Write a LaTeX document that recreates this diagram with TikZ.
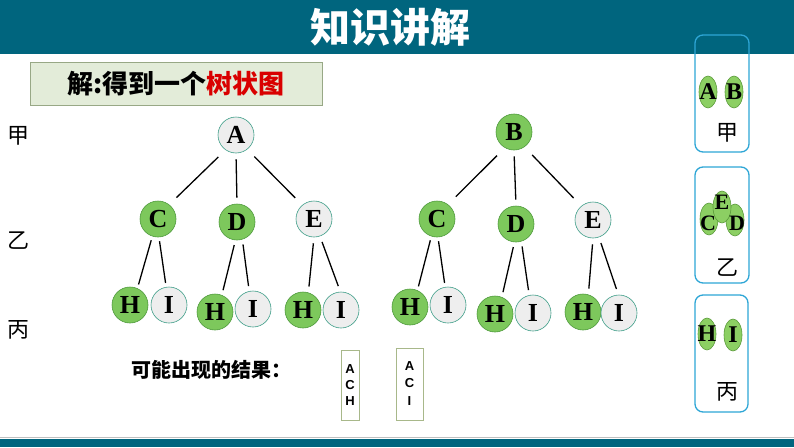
\documentclass[tikz,border=0pt]{standalone}
\usepackage{fontspec}
\newfontfamily\cjk{Noto Sans CJK SC}
\newfontfamily\tnr{Liberation Serif}
\newfontfamily\arial{Liberation Sans}
\usetikzlibrary{shapes.geometric}
\definecolor{teal1}{HTML}{00657E}
\definecolor{gfill}{HTML}{7DC85C}
\definecolor{gborder}{HTML}{4E9A3C}
\definecolor{wfill}{HTML}{EEEEEE}
\definecolor{wborder}{HTML}{3E9E88}
\definecolor{pfill}{HTML}{8CCF63}
\definecolor{pborder}{HTML}{5A9A3A}
\definecolor{panel}{HTML}{2EA6D6}
\definecolor{boxfill}{HTML}{E3ECD9}
\definecolor{boxborder}{HTML}{98A886}
\definecolor{resborder}{HTML}{A8B88A}
\tikzset{
  tn/.style={circle,minimum size=36pt,inner sep=0pt,line width=0.6pt,
    font=\tnr\bfseries\fontsize{26}{26}\selectfont},
  gn/.style={tn,fill=gfill,draw=gborder},
  wn/.style={tn,fill=wfill,draw=wborder},
  edge/.style={line width=1.3pt,black,shorten <=#1,shorten >=#1},
  edge/.default=5pt,
  pell/.style={ellipse,minimum width=18pt,minimum height=32pt,inner sep=0pt,
    fill=pfill,draw=pborder,line width=0.6pt},
  plet/.style={inner sep=0pt,font=\tnr\bfseries\fontsize{24}{24}\selectfont},
  plets/.style={plet,font=\tnr\bfseries\fontsize{22}{22}\selectfont},
  pbox/.style={draw=panel,line width=1.3pt,rounded corners=8pt},
  hz/.style={inner sep=0pt,font=\cjk\fontsize{22}{22}\selectfont},
  res/.style={draw=resborder,line width=0.8pt,fill=white,inner sep=0pt,
    font=\arial\bfseries\fontsize{13}{16}\selectfont,align=center},
}
\begin{document}
\begin{tikzpicture}[x=1pt,y=-1pt]
\useasboundingbox (0,0) rectangle (794,447);
\fill[white] (0,0) rectangle (794,447);
% header
\fill[teal1] (0,0) rectangle (794,54);
\node[inner sep=0pt,text=white,font=\cjk\bfseries\fontsize{40}{40}\selectfont] (title) at (390,27) {知识讲解};
% bottom bar
\draw[line width=1pt,color=gray!50] (0,437) -- (794,437);
\fill[teal1] (0,439) rectangle (794,447);
% heading box
\node[draw=boxborder,fill=boxfill,line width=1pt,minimum width=292pt,minimum height=43pt,inner sep=0pt,
  font=\cjk\bfseries\fontsize{26}{26}\selectfont] (head) at (176,84) {解:得到一个\textcolor{red!85!black}{树状图}};
% left labels
\node[hz] (l1) at (18,136) {甲};
\node[hz] (l2) at (18,241) {乙};
\node[hz] (l3) at (18,330) {丙};
% tree 1
\node[wn] (A) at (236,135) {A};
\node[gn] (C1) at (158,219) {C};
\node[gn] (D1) at (237,222) {D};
\node[wn] (E1) at (314,219) {E};
\node[gn] (H11) at (130,305) {H};
\node[wn] (I11) at (169,305) {I};
\node[gn] (H12) at (215,312) {H};
\node[wn] (I12) at (253,309) {I};
\node[gn] (H13) at (303,310) {H};
\node[wn] (I13) at (341,310) {I};
\draw[edge=10pt] (A.235) -- (C1.52);
\draw[edge=6pt] (A.270) -- (D1.90);
\draw[edge=10pt] (A.308) -- (E1.130);
\draw[edge=4pt] (C1.252) -- (H11.66);
\draw[edge=4pt] (C1.273) -- (I11.99);
\draw[edge=5pt] (D1.265) -- (H12.68);
\draw[edge=5pt] (D1.287) -- (I12.102);
\draw[edge=6pt] (E1.270) -- (H13.73);
\draw[edge=6pt] (E1.289) -- (I13.92);
% tree 2
\node[gn] (B) at (514,132) {B};
\node[gn] (C2) at (437,219) {C};
\node[gn] (D2) at (516,224) {D};
\node[wn] (E2) at (593,220) {E};
\node[gn] (H21) at (410,307) {H};
\node[wn] (I21) at (448,305) {I};
\node[gn] (H22) at (495,314) {H};
\node[wn] (I22) at (533,313) {I};
\node[gn] (H23) at (583,312) {H};
\node[wn] (I23) at (619,313) {I};
\draw[edge=11pt] (B.240) -- (C2.53);
\draw[edge=6pt] (B.270) -- (D2.90);
\draw[edge=11pt] (B.305) -- (E2.130);
\draw[edge=4pt] (C2.252) -- (H21.66);
\draw[edge=4pt] (C2.273) -- (I21.99);
\draw[edge=5pt] (D2.265) -- (H22.68);
\draw[edge=5pt] (D2.287) -- (I22.102);
\draw[edge=6pt] (E2.270) -- (H23.73);
\draw[edge=6pt] (E2.289) -- (I23.92);
% results
\node[inner sep=0pt,anchor=west,font=\cjk\bfseries\fontsize{20}{20}\selectfont] (restext) at (131,370) {可能出现的结果：};
\node[res,minimum width=18pt,minimum height=70pt] (r1) at (350,385) {A\\C\\H};
\node[res,minimum width=27pt,minimum height=72pt] (r2) at (409.5,384) {A\\[1pt]C\\[2pt]I};
% right panels
\draw[pbox] (695,35) rectangle (749,152);
\draw[pbox] (695,167) rectangle (749,283);
\draw[pbox] (695,295) rectangle (748,412);
\node[pell] (pA) at (708,92) {};
\node[pell] (pB) at (734,92) {};
\node[plet] (tA) at (pA) {A};
\node[plet] (tB) at (pB) {B};
\node[hz] (p1) at (727,133) {甲};
\node[pell] (pC) at (709,219) {};
\node[pell] (pD) at (735,220) {};
\node[pell] (pE) at (722,207) {};
\node[plets] (tC) at (708,223) {C};
\node[plets] (tD) at (737,223) {D};
\node[plets] (tE) at (722,202) {E};
\node[hz] (p2) at (727,268) {乙};
\node[pell] (pH) at (707,334) {};
\node[pell] (pI) at (733,335) {};
\node[plet] (tH) at (pH) {H};
\node[plet] (tI) at (pI) {I};
\node[hz] (p3) at (727,392) {丙};
\end{tikzpicture}
\end{document}
